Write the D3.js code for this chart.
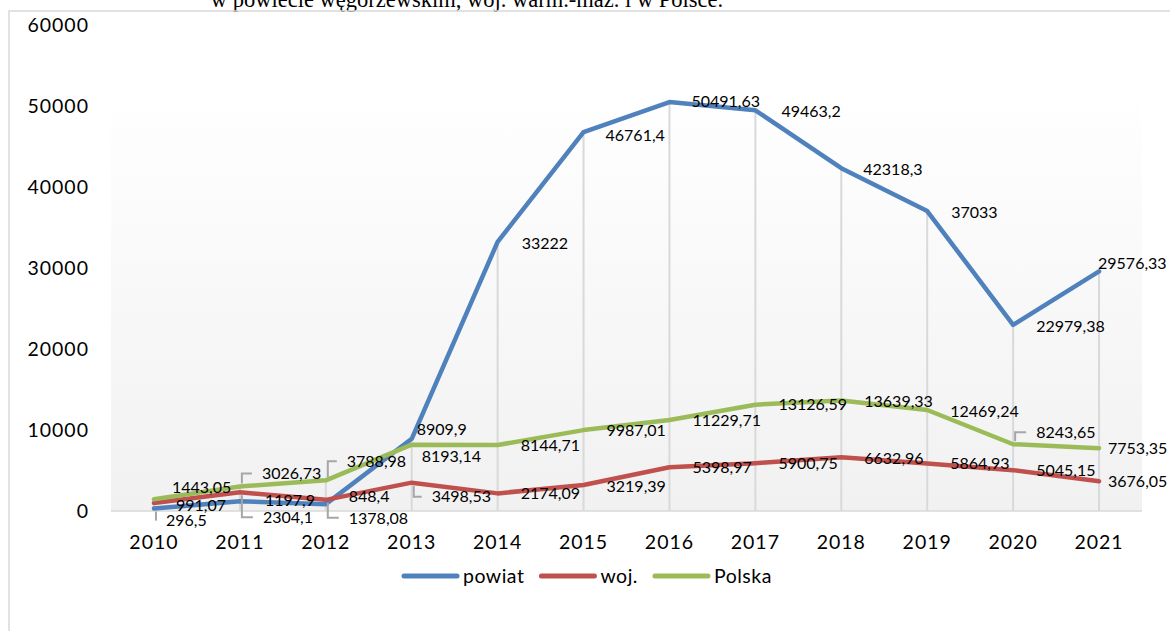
<!DOCTYPE html>
<html>
<head>
<meta charset="utf-8">
<script src="https://cdn.jsdelivr.net/npm/d3@7"></script>
<style>
body{
  margin: 0;
  background-color: white;
}
text{
  font-family: Lato, "Open Sans", sans-serif;
}
</style>
</head>
<body>
<div id="chart"></div>
<script type="text/javascript">
 // dane z wykresu
 var years = ["2010","2011","2012","2013","2014","2015","2016","2017","2018","2019","2020","2021"];
 var powiat = [296.5, 1197.9, 848.4, 8909.9, 33222, 46761.4, 50491.63, 49463.2, 42318.3, 37033, 22979.38, 29576.33];
 var woj = [991.07, 2304.1, 1378.08, 3498.53, 2174.09, 3219.39, 5398.97, 5900.75, 6632.96, 5864.93, 5045.15, 3676.05];
 var polska = [1443.05, 3026.73, 3788.98, 8193.14, 8144.71, 9987.01, 11229.71, 13126.59, 13639.33, 12469.24, 8243.65, 7753.35];
 var seriesNames = ["powiat", "woj.", "Polska"];
 var yTicks = [0, 10000, 20000, 30000, 40000, 50000, 60000];
 var title = "w powiecie węgorzewskim, woj. warm.-maz. i w Polsce.";

 var props = {
   width: 1170,
   height: 631,
   plotLeft: 111,
   plotRight: 1142,
   plotTop: 25,
   plotBottom: 511
 }
 var colors = ["#4f81bd", "#c0504d", "#9bbb59"];

 // przesuniecia etykiet [dx, dy, linia odniesienia]
 var nudges = {
   "powiat": [[12,12,1],[25,-1],[23,-8],[5,-10],[24,1],[22,3],[22,-1],[26,1],[22,1],[24,1],[23,1],[-1,-8]],
   "woj.":   [[22,2],[23,25,1],[23,18,1],[20,14,1],[23,0],[23,1],[23,0],[23,0],[23,1],[23,0],[23,0],[9,0]],
   "Polska": [[18,-12],[22,-13,1],[21,-19,1],[10,12],[23,0],[23,0],[23,0],[23,0],[23,1],[23,1],[23,-12,1],[9,0]]
 }

 var series = [powiat, woj, polska].map(function(vals, i){
   return {name: seriesNames[i], color: colors[i], values: vals};
 });

 var svg = d3.select("#chart").append("svg")
   .attr("width", props.width).attr("height", props.height);

 // tytul (uciety u gory)
 svg.append("text")
   .attr("x", 467).attr("y", 7)
   .attr("text-anchor", "middle")
   .style("font-family", "'Liberation Serif', 'Times New Roman', serif")
   .style("font-size", "22.5px")
   .text(title);

 svg.append("rect")
   .attr("x", 9).attr("y", 11).attr("width", 1300).attr("height", 800)
   .attr("fill", "none").attr("stroke", "#d9d9d9").attr("stroke-width", 1.5);

 var grad = svg.append("defs").append("linearGradient")
   .attr("id", "bg").attr("x1", 0).attr("y1", 0).attr("x2", 0).attr("y2", 1);
 grad.append("stop").attr("offset", "0%").attr("stop-color", "#ffffff");
 grad.append("stop").attr("offset", "100%").attr("stop-color", "#f1f1f1");

 svg.append("rect")
   .attr("x", props.plotLeft).attr("y", 89)
   .attr("width", props.plotRight - props.plotLeft).attr("height", props.plotBottom - 89)
   .attr("fill", "url(#bg)");

 var x = d3.scaleBand().domain(years).range([props.plotLeft, props.plotRight]);
 var y = d3.scaleLinear().domain([0, 60000]).range([props.plotBottom, props.plotTop]);
 function cx(d){ return x(d) + x.bandwidth() / 2; }

 // osie
 var yAxis = svg.append("g")
   .attr("transform", "translate(" + props.plotLeft + ",0)")
   .call(d3.axisLeft(y).tickValues(yTicks).tickSize(0).tickPadding(22).tickFormat(d3.format("d")));
 var xAxis = svg.append("g")
   .attr("transform", "translate(0," + props.plotBottom + ")")
   .call(d3.axisBottom(x).tickSize(0).tickPadding(24));
 [yAxis, xAxis].forEach(function(a){
   a.select(".domain").remove();
   a.selectAll("text")
     .style("font-family", "Lato, sans-serif")
     .style("font-size", "19.5px")
     .style("letter-spacing", "1px")
     .attr("fill", "#000");
 });

 svg.append("line")
   .attr("x1", props.plotLeft).attr("x2", props.plotRight)
   .attr("y1", props.plotBottom).attr("y2", props.plotBottom)
   .attr("stroke", "#d9d9d9").attr("stroke-width", 1.5);

 // linie spadku
 svg.append("g").selectAll("line")
   .data(years)
   .enter().append("line")
   .attr("x1", cx).attr("x2", cx)
   .attr("y1", function(d, i){ return y(d3.max(series, function(s){ return s.values[i]; })); })
   .attr("y2", y(0))
   .attr("stroke", "#d9d9d9").attr("stroke-width", 2);

 var line = d3.line()
   .x(function(d, i){ return cx(years[i]); })
   .y(function(d){ return y(d); });

 svg.append("g").selectAll("path")
   .data(series)
   .enter().append("path")
   .attr("d", function(s){ return line(s.values); })
   .attr("fill", "none")
   .attr("stroke", function(s){ return s.color; })
   .attr("stroke-width", 4.5)
   .attr("stroke-linejoin", "round")
   .attr("stroke-linecap", "round");

 // etykiety danych
 var labels = svg.append("g");
 series.forEach(function(s){
   s.values.forEach(function(v, i){
     var px = cx(years[i]), py = y(v);
     var n = nudges[s.name][i];
     var lx = px + n[0], ly = py + n[1];
     if(n[2]){
       labels.append("path")
         .attr("d", "M" + (px + 2) + "," + (py + (n[1] > 0 ? 3 : -3)) + "V" + ly + "H" + (lx - 10))
         .attr("fill", "none").attr("stroke", "#a6a6a6").attr("stroke-width", 2);
     }
     labels.append("text")
       .attr("x", lx).attr("y", ly).attr("dy", "0.36em")
       .style("font-size", "16px")
       .attr("fill", "#000")
       .text(String(v).replace(".", ","));
   });
 });

 // legenda
 var legend = svg.append("g").attr("transform", "translate(404,576)");
 var lxPos = 0;
 series.forEach(function(s){
   legend.append("line")
     .attr("x1", lxPos).attr("x2", lxPos + 53)
     .attr("stroke", s.color).attr("stroke-width", 5).attr("stroke-linecap", "round");
   var t = legend.append("text")
     .attr("x", lxPos + 59).attr("dy", "0.36em")
     .style("font-size", "19.5px").style("letter-spacing", "0.5px")
     .text(s.name);
   lxPos += 59 + t.node().getComputedTextLength() + 17;
 });
</script>
</body>
</html>
